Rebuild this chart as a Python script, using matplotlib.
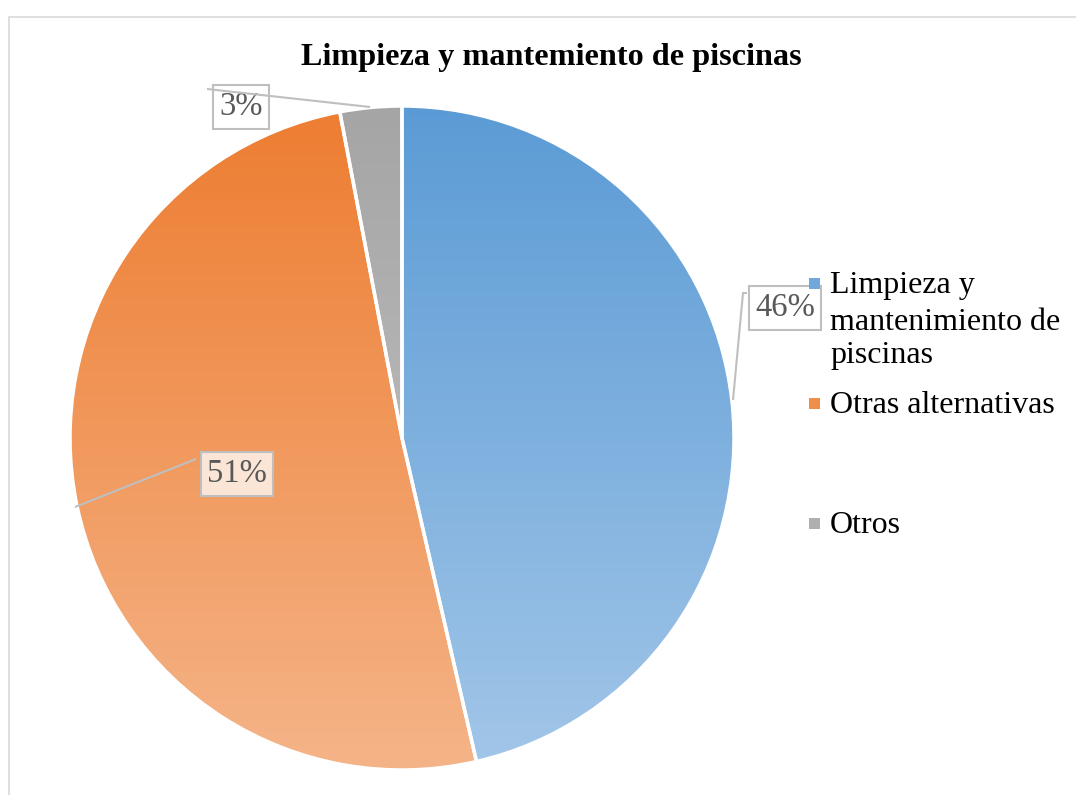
import numpy as np
import matplotlib
matplotlib.use("Agg")
import matplotlib.pyplot as plt
from matplotlib.colors import LinearSegmentedColormap
from matplotlib.patches import Rectangle

# ---- data ----
title = "Limpieza y mantemiento de piscinas"
categories = ["Limpieza y mantenimiento de piscinas", "Otras alternativas", "Otros"]
legend_lines = [["Limpieza y", "mantenimiento de", "piscinas"], ["Otras alternativas"], ["Otros"]]
values = [46.4, 50.6, 3.0]
top_colors = ["#5B9BD5", "#ED7D31", "#A5A5A5"]
bottom_colors = ["#A2C6E8", "#F5B488", "#C8C8C8"]

plt.rcParams['font.family'] = ['Liberation Serif', 'DejaVu Serif']

W, H = 1076, 795
fig = plt.figure(figsize=(W / 100, H / 100), dpi=100)

# chart border
fig.patches.append(Rectangle((9 / W, -0.1), 1.2, 1 - 17 / H + 0.1, transform=fig.transFigure,
                             fill=False, edgecolor="#D9D9D9", linewidth=1.2))

cx, cy, R = 402, 438, 332
ax = fig.add_axes([(cx - R) / W, (H - cy - R) / H, 2 * R / W, 2 * R / H])
wedges, _ = ax.pie(values, startangle=90, counterclock=False, radius=1,
                   wedgeprops=dict(edgecolor="white", linewidth=2.5))
ax.set_xlim(-1, 1)
ax.set_ylim(-1, 1)
ax.set_aspect("equal")
ax.axis("off")

# gradient fill clipped to each wedge
grad = np.linspace(0, 1, 256).reshape(-1, 1)
for w, tc, bc in zip(wedges, top_colors, bottom_colors):
    cmap = LinearSegmentedColormap.from_list("g", [tc, bc])
    im = ax.imshow(grad, extent=(-1, 1, -1, 1), origin="upper", cmap=cmap,
                   aspect="auto", zorder=1)
    im.set_clip_path(w)
    w.set_facecolor("none")
    w.set_zorder(2)
ax.set_xlim(-1, 1)
ax.set_ylim(-1, 1)

def px(x, y):
    return ((x - cx) / R, (cy - y) / R)

labels = [f"{round(v)}%" for v in values]
lab_pos = [px(785, 308), px(237, 474), px(241, 107)]
lab_fc = ["white", "#FBE5D6", "white"]
for lab, (lx, ly), fc in zip(labels, lab_pos, lab_fc):
    ax.text(lx, ly, lab, ha="center", va="center", fontsize=23.5, color="#595959", zorder=5,
            bbox=dict(boxstyle="square,pad=0.2", facecolor=fc, edgecolor="#BFBFBF", linewidth=1.5))

line_kw = dict(color="#BFBFBF", linewidth=1.5, zorder=6, solid_capstyle="butt")
# leader lines
p = [px(733, 400), px(743, 293), px(747, 293)]
ax.plot([q[0] for q in p], [q[1] for q in p], clip_on=False, **line_kw)
p = [px(75, 507), px(196, 459)]
ax.plot([q[0] for q in p], [q[1] for q in p], clip_on=False, **line_kw)
p = [px(370, 107), px(207, 89)]
ax.plot([q[0] for q in p], [q[1] for q in p], clip_on=False, **line_kw)

fig.text(551 / W, 1 - 57 / H, title, ha="center", va="center", fontsize=23.2,
         fontweight="bold", color="black")

# legend
baselines = [[293, 330, 363], [413], [533]]
for lines, bls, tc, bc in zip(legend_lines, baselines, top_colors, bottom_colors):
    my = bls[0] - 10
    cmap = LinearSegmentedColormap.from_list("g", [tc, bc])
    fig.patches.append(Rectangle((809 / W, 1 - (my + 5.5) / H), 11 / W, 11 / H,
                                 transform=fig.transFigure, facecolor=cmap(0.3),
                                 edgecolor="none"))
    for t, b in zip(lines, bls):
        fig.text(830 / W, 1 - b / H, t, ha="left", va="baseline", fontsize=23, color="black")

fig.savefig("out.png", dpi=100, facecolor="white")
